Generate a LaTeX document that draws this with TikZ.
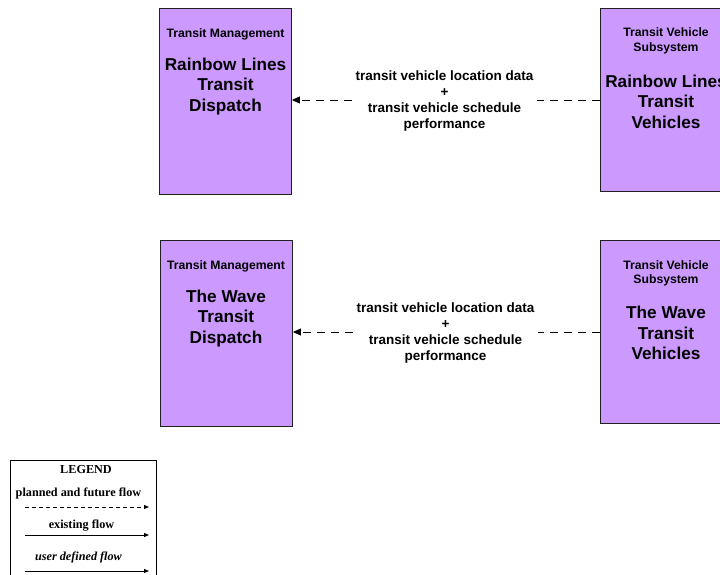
\documentclass[tikz,border=0pt]{standalone}
\usepackage{fontspec}
\setmainfont{Liberation Sans}
\newfontfamily\legendfont{Liberation Serif}
\usetikzlibrary{arrows.meta}
\definecolor{boxfill}{HTML}{CC99FF}
\definecolor{boxline}{HTML}{202020}
\tikzset{
  sysbox/.style={draw=boxline, line width=0.9pt, fill=boxfill, minimum width=132pt, anchor=north west, inner sep=0pt},
  hdr/.style={align=center, font=\fontsize{12.2}{14.5}\selectfont\bfseries, inner sep=0pt},
  ttl/.style={align=center, font=\fontsize{17.2}{20.5}\selectfont\bfseries, inner sep=0pt},
  flowlbl/.style={align=center, font=\fontsize{13.5}{16}\selectfont\bfseries, inner sep=0pt, minimum width=185pt},
  flowline/.style={line width=0.9pt, dash pattern=on 8pt off 6pt, -{Triangle[length=8pt,width=7pt]}},
  flowline2/.style={line width=0.9pt, dash pattern=on 8pt off 6pt},
  legtxt/.style={font=\legendfont\fontsize{12.2}{13}\selectfont\bfseries, inner sep=0pt},
  legarrow/.style={line width=0.9pt, -{Triangle[length=5pt,width=4pt]}},
}
\begin{document}
\begin{tikzpicture}[x=1pt,y=-1pt]
\path[use as bounding box, clip] (0,0) rectangle (720,574);
\fill[white] (0,0) rectangle (720,574);

% Rainbow Lines
\node[sysbox, minimum height=186pt] (rld) at (159,8) {};
\node[hdr] (rldh) at (225.5,34) {Transit Management};
\node[ttl] (rldt) at (225.5,86.5) {Rainbow Lines\\Transit\\Dispatch};

\node[sysbox, minimum height=183pt] (rlv) at (600,8) {};
\node[hdr] (rlvh) at (666,41) {Transit Vehicle\\Subsystem};
\node[ttl] (rlvt) at (666,101.5) {Rainbow Lines\\Transit\\Vehicles};

\node[flowlbl] (f1) at (444.5,101) {transit vehicle location data\\+\\transit vehicle schedule\\performance};
\coordinate (f1r) at (rlv.west|-0,100);
\draw[flowline2] (f1r) -- (f1.east|-0,100);
\draw[flowline] (f1.west|-0,100) -- (rld.east|-0,100);

% The Wave
\node[sysbox, minimum height=186pt] (twd) at (160,240) {};
\node[hdr] (twdh) at (226,266) {Transit Management};
\node[ttl] (twdt) at (226,318.5) {The Wave\\Transit\\Dispatch};

\node[sysbox, minimum height=183pt] (twv) at (600,240) {};
\node[hdr] (twvh) at (666,273.5) {Transit Vehicle\\Subsystem};
\node[ttl] (twvt) at (666,333) {The Wave\\Transit\\Vehicles};

\node[flowlbl] (f2) at (445.5,333) {transit vehicle location data\\+\\transit vehicle schedule\\performance};
\coordinate (f2r) at (twv.west|-0,332);
\draw[flowline2] (f2r) -- (f2.east|-0,332);
\draw[flowline] (f2.west|-0,332) -- (twd.east|-0,332);

% Legend
\node[draw=black, line width=0.9pt, fill=white, minimum width=146pt, minimum height=140pt, anchor=north west, inner sep=0pt] (leg) at (10,460) {};
\node[legtxt] (legt) at (86,470) {LEGEND};
\node[legtxt] (leg1) at (78.5,493) {planned and future flow};
\coordinate (l1a) at (25,507); \coordinate (l1b) at (149,507);
\draw[line width=0.9pt, dash pattern=on 4pt off 3pt, -{Triangle[length=5pt,width=4pt]}] (l1a) -- (l1b);
\node[legtxt] (leg2) at (81.5,526) {existing flow};
\coordinate (l2a) at (25,535); \coordinate (l2b) at (149,535);
\draw[legarrow] (l2a) -- (l2b);
\node[legtxt, font=\legendfont\fontsize{12.2}{13}\selectfont\bfseries\itshape] (leg3) at (78.5,557) {user defined flow};
\coordinate (l3a) at (25,571); \coordinate (l3b) at (149,571);
\draw[legarrow] (l3a) -- (l3b);
\end{tikzpicture}
\end{document}
